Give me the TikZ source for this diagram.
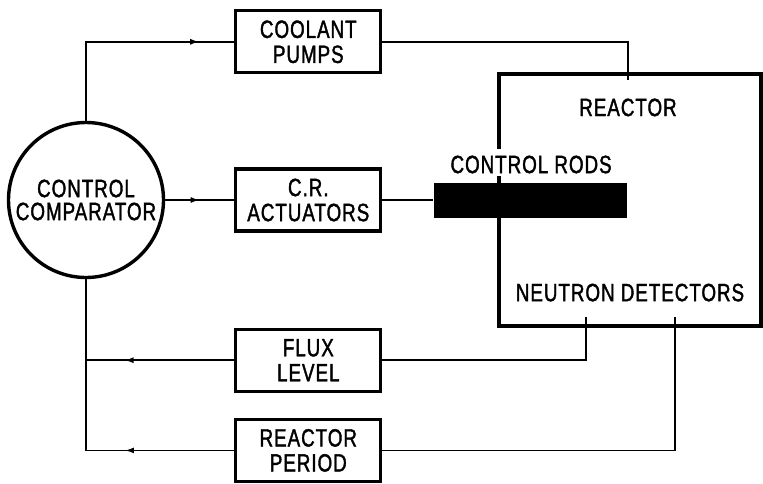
\documentclass[tikz,border=0pt]{standalone}
\usepackage{fontspec}
\setmainfont{Liberation Sans}[FakeStretch=0.75, FakeBold=1.5, LetterSpace=4]
\usetikzlibrary{positioning, arrows.meta, decorations.markings}

\begin{document}
\begin{tikzpicture}[x=1pt, y=-1pt,
      every node/.style={font=\fontsize{25}{25}\selectfont},
      box/.style={rectangle, draw=black, line width=3.2pt, minimum width=145pt,
                  minimum height=62pt, align=center, inner sep=0pt},
      comparator/.style={circle, draw=black, line width=3.4pt, minimum size=155pt,
                  align=center, inner sep=0pt, font=\fontsize{25}{23}\selectfont},
      vessel/.style={rectangle, draw=black, line width=3.2pt, minimum width=262pt,
                  minimum height=252pt},
      rodbar/.style={rectangle, fill=black, minimum width=193pt, minimum height=35pt,
                  inner sep=0pt},
      lbl/.style={inner sep=0pt},
      line/.style={line width=1.6pt},
      arr/.style={line, postaction={decorate},
                  decoration={markings, mark=at position #1 with {\arrow{Latex[length=9pt, width=6pt]}}}},
    ]

      \useasboundingbox (0,0) rectangle (763,483);

      \node[comparator] (comp) at (86,200) {CONTROL\\COMPARATOR};

      % boxes of the control loop
      \node[box, right=69pt of comp] (actuators) {C.R.\\ACTUATORS};
      \node[box, above=93pt of actuators] (pumps) {COOLANT\\PUMPS};
      \node[box, below=95pt of actuators] (flux) {FLUX\\LEVEL};
      \node[box, below=25pt of flux] (period) {REACTOR\\PERIOD};

      % reactor with rods and labels
      \node[vessel, right=115pt of actuators] (reactor) {};
      \node[rodbar, right=51pt of actuators] (rods) {};
      \node[lbl, fill=white, text height=21.5pt, text depth=0pt, inner xsep=4pt,
            inner ysep=2.5pt, above=6.5pt of rods, xshift=1pt] (rodlbl) {CONTROL\ RODS};
      \node[lbl, below=26pt of reactor.north, xshift=-2pt] (reactorlbl) {REACTOR};
      \node[lbl, above=26pt of reactor.south] (detlbl) {NEUTRON\ DETECTORS};

      \coordinate (pumpin) at (628,80);
      \coordinate (det1) at (586,317);
      \coordinate (det2) at (675,317);

      % connectors
      \draw[arr=0.846] (comp.north) |- (pumps.west);
      \draw[line] (pumps.east) -| (pumpin);
      \draw[arr=0.5] (comp.east) -- (actuators.west);
      \draw[line] (actuators.east) -- (rods.west);
      \draw[line] (det1) |- (flux.east);
      \draw[line] (det2) |- (period.east);
      \draw[arr=0.74] (flux.west) -- (comp.south |- flux.west);
      \draw[arr=0.342] (period.west) -| (comp.south);

    \end{tikzpicture}
\end{document}
